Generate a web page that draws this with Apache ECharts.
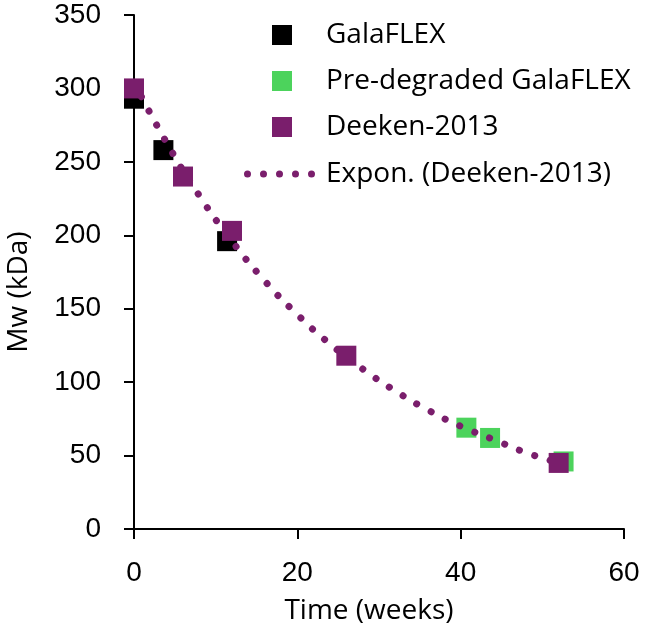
<!DOCTYPE html>
<html>
<head>
<meta charset="utf-8">
<script src="https://cdn.jsdelivr.net/npm/echarts@6/dist/echarts.min.js"></script>
<style>
  html, body { margin: 0; padding: 0; background: #fff; }
  #chart { width: 646px; height: 630px; }
</style>
</head>
<body>
<div id="chart"></div>
<script>
// values
const galaflexWeeks = [0, 3.6, 11.4];
const galaflexMw = [293, 258, 196];

const preDegradedWeeks = [40.7, 43.6, 52.6];
const preDegradedMw = [69, 62, 46];

const deekenWeeks = [0, 6, 12, 26, 52];
const deekenMw = [300, 240, 203, 118, 45];

// dotted trend curve, sampled along the picture
const trendWeeks = [0, 4, 8, 12, 16, 20, 24, 28, 32, 36, 40, 44, 48, 52];
const trendMw = [304, 263, 227, 196, 169, 146, 126, 109, 94, 81, 70, 61, 52, 45];

const xTicks = { min: 0, max: 60, interval: 20 };
const yTicks = { min: 0, max: 350, interval: 50 };

const PURPLE = '#7a1e6c';
const GREEN = '#4cd35c';
const TICK_FONT = 'Liberation Sans';
const TEXT_FONT = 'Open Sans';

// five round dots for the trend legend key
const DOTS_ICON = 'path://' + [3, 19, 35, 51, 67]
    .map(cx => `M${cx - 3.5},3.5a3.5,3.5 0 1,0 7,0a3.5,3.5 0 1,0 -7,0z`).join(' ');

const zip = (xs, ys) => xs.map((x, i) => [x, ys[i]]);

const chart = echarts.init(document.getElementById('chart'));

const axisCommon = {
    type: 'value',
    splitLine: { show: false },
    axisLine: { show: true, lineStyle: { color: '#000', width: 2 } },
    axisTick: { show: true, inside: false, length: 10, lineStyle: { color: '#000', width: 2 } },
    axisLabel: { color: '#000', fontSize: 28, fontFamily: TICK_FONT }
};

chart.setOption({
    animation: false,
    grid: { left: 134, right: 22, top: 15, bottom: 101, containLabel: false },
    xAxis: Object.assign({}, axisCommon, {
        min: xTicks.min, max: xTicks.max, interval: xTicks.interval,
        axisLabel: Object.assign({}, axisCommon.axisLabel, { margin: 30 })
    }),
    yAxis: Object.assign({}, axisCommon, {
        min: yTicks.min, max: yTicks.max, interval: yTicks.interval,
        axisLabel: Object.assign({}, axisCommon.axisLabel, { margin: 33 })
    }),
    legend: [
        {
            data: ['GalaFLEX', 'Pre-degraded GalaFLEX', 'Deeken-2013'],
            orient: 'vertical',
            left: 272, top: 21,
            padding: 0,
            itemWidth: 20, itemHeight: 20,
            itemGap: 18,
            icon: 'rect',
            textStyle: { fontSize: 28, fontFamily: TEXT_FONT, color: '#000', padding: [0, 0, 0, 29] }
        },
        {
            data: [{ name: 'Expon. (Deeken-2013)', icon: DOTS_ICON }],
            left: 244, top: 160,
            padding: 0,
            itemWidth: 71, itemHeight: 7,
            textStyle: { fontSize: 28, fontFamily: TEXT_FONT, color: '#000', padding: [0, 0, 0, 6] }
        }
    ],
    graphic: [
        {
            type: 'text', x: 19, y: 292, rotation: Math.PI / 2,
            style: {
                text: 'Mw (kDa)', fontSize: 28, fontFamily: TEXT_FONT, fill: '#000',
                textAlign: 'center', textVerticalAlign: 'middle'
            }
        },
        {
            type: 'text', x: 369, y: 611,
            style: {
                text: 'Time (weeks)', fontSize: 28, fontFamily: TEXT_FONT, fill: '#000',
                textAlign: 'center', textVerticalAlign: 'middle'
            }
        }
    ],
    series: [
        {
            name: 'GalaFLEX',
            type: 'scatter',
            symbol: 'rect',
            symbolSize: 20,
            itemStyle: { color: '#000', opacity: 1 },
            z: 2,
            data: zip(galaflexWeeks, galaflexMw)
        },
        {
            name: 'Pre-degraded GalaFLEX',
            type: 'scatter',
            symbol: 'rect',
            symbolSize: 20,
            itemStyle: { color: GREEN, opacity: 1 },
            z: 3,
            data: zip(preDegradedWeeks, preDegradedMw)
        },
        {
            name: 'Expon. (Deeken-2013)',
            type: 'line',
            smooth: true,
            showSymbol: false,
            symbol: 'none',
            lineStyle: { color: PURPLE, width: 7, type: [0.1, 16], cap: 'round' },
            itemStyle: { color: PURPLE },
            z: 4,
            data: zip(trendWeeks, trendMw)
        },
        {
            name: 'Deeken-2013',
            type: 'scatter',
            symbol: 'rect',
            symbolSize: 20,
            itemStyle: { color: PURPLE, opacity: 1 },
            z: 5,
            data: zip(deekenWeeks, deekenMw)
        }
    ]
});
</script>
</body>
</html>
